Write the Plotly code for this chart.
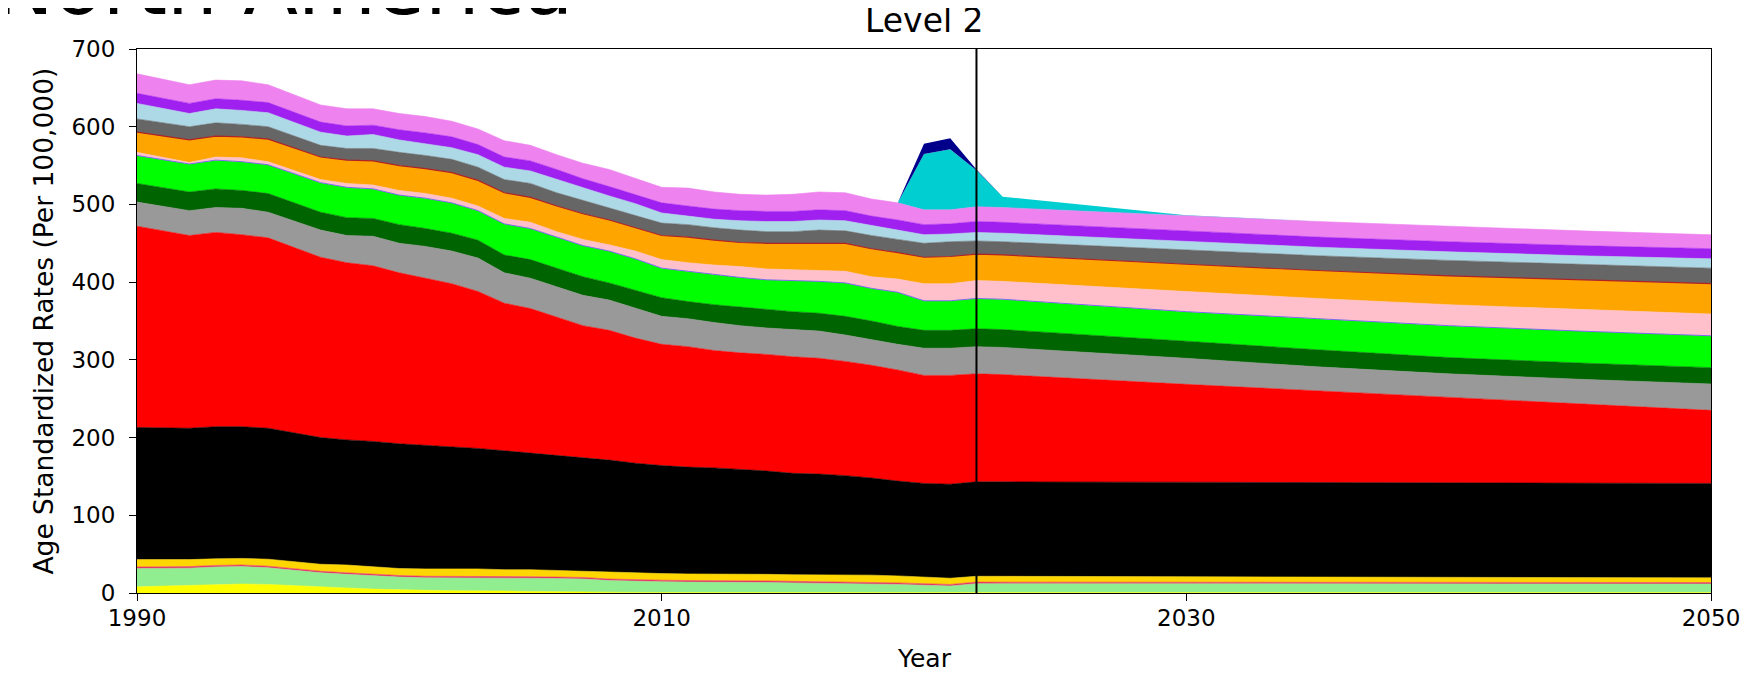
import numpy as np
import plotly.graph_objects as go

years = [1990, 1992, 1993, 1994, 1995, 1997, 1998, 1999, 2000, 2001, 2002, 2003, 2004,
         2005, 2006, 2007, 2008, 2009, 2010, 2011, 2012, 2013, 2014, 2015, 2016, 2017,
         2018, 2019, 2020, 2021, 2022, 2023, 2030, 2035, 2040, 2045, 2050]

# Upper boundary of each stacked band (bottom to top)
top_yellow = [8, 9.5, 11, 11.5, 11, 7.5, 6.5, 5, 4, 3.5, 3, 3, 2.5, 2, 1.5, 1.2, 1, 0.8, 0.7,
              0.6, 0.6, 0.5, 0.5, 0.5, 0.5, 0.5, 0.5, 0.5, 0.5, 0.5, 0.5, 0.5, 0.5, 0.5, 0.5, 0.5, 0.5]
top_lightgreen = [31.5, 32, 33.5, 34, 32.5, 26, 24, 22, 20.5, 19.5, 19.5, 19.5, 19.5, 19, 18.5, 18,
                  16, 15, 14.5, 14, 14, 13.5, 13.5, 13, 12.5, 12.5, 12, 11, 10, 9, 12, 12, 12, 12,
                  11.5, 11.5, 11.5]
top_crimson = [33.5, 34, 35.5, 36, 34.5, 28, 26, 24, 22.5, 21.5, 21.5, 21.5, 21.5, 21, 20.5, 20,
               18, 17, 16.5, 16, 16, 15.5, 15.5, 15, 14.5, 14.5, 14, 13, 12, 11, 14, 14, 14, 14,
               13.5, 13.5, 13.5]
top_gold = [43, 43, 44, 44.5, 43.5, 37, 36, 33.5, 31.5, 31, 31, 31, 30, 30, 29, 28, 26.5, 25.5,
            25, 24.5, 24.5, 24, 24, 23.5, 23.5, 23, 23, 22, 20.5, 19, 21.5, 21.5, 21, 20.5, 20,
            19.5, 19.5]
top_black = [213, 212, 214, 214, 212, 200, 197, 195, 192, 190, 188, 186, 183, 180, 177, 174, 171,
             167, 164, 162, 161, 159, 157, 154, 153, 151, 148, 144, 141, 140, 143, 143, 142.5,
             142, 141.5, 141, 141]
top_red = [472, 460, 464, 461, 457, 432, 425, 421, 412, 405, 398, 388, 373, 366, 355, 344, 338,
           328, 320, 317, 312, 309, 307, 304, 302, 298, 293, 287, 280, 280, 282, 281, 268.5, 260,
           252, 243.5, 235]
top_gray = [503, 492, 496, 495, 490, 467, 460, 459, 450, 446, 440, 431, 412, 405, 394, 383, 377,
            367, 356, 353, 348, 344, 341, 339, 337, 332, 326, 320, 315, 315, 317, 316, 302, 291,
            282, 275, 269]
top_darkgreen = [527, 516, 520, 518, 514, 490, 483, 482, 474, 469, 463, 454, 435, 429, 418, 407,
                 399, 389, 380, 375, 371, 368, 365, 362, 360, 356, 350, 343, 338, 338, 340, 339,
                 324, 313, 303, 296, 290]
top_lime = [563, 552, 557, 555, 551, 528, 522, 520, 512, 508, 502, 492, 475, 469, 458, 447, 440,
            430, 418, 414, 410, 406, 403, 402, 401, 399, 392, 387, 376, 376, 379, 378, 362, 353,
            344, 337, 331]
top_pink = [567, 554, 561, 560, 555, 532, 527, 525, 518, 514, 508, 498, 482, 477, 465, 455, 448,
            440, 429, 425, 422, 420, 417, 416, 415, 414, 407, 404, 398, 398, 402, 401, 388, 379,
            371, 365, 359]
top_orange = [593, 583, 588, 587, 584, 561, 557, 556, 550, 546, 541, 531, 515, 509, 498, 488, 480,
              470, 460, 458, 454, 451, 450, 450, 450, 450, 443, 438, 432, 433, 436, 435, 423, 415,
              408, 403, 398]
top_dimgray = [610, 600, 605, 603, 600, 576, 572, 572, 567, 563, 558, 548, 532, 527, 515, 505, 495,
               485, 476, 474, 470, 467, 465, 465, 467, 466, 460, 455, 450, 452, 453, 452, 441, 434,
               428, 423, 418]
top_lightblue = [630, 617, 623, 621, 618, 593, 588, 590, 583, 578, 573, 564, 548, 543, 532, 521,
                 511, 501, 489, 485, 481, 479, 478, 478, 480, 479, 473, 467, 461, 462, 464, 463,
                 453, 445, 439, 434, 430]
top_purple = [643, 630, 636, 634, 631, 606, 601, 602, 596, 592, 587, 577, 561, 556, 545, 533, 523,
              513, 502, 498, 494, 492, 491, 491, 493, 492, 485, 480, 474, 475, 478, 477, 466, 458,
              452, 447, 443]
top_violet = [668, 654, 660, 659, 654, 628, 623, 623, 617, 613, 607, 597, 582, 576, 564, 553, 545,
              534, 522, 521, 516, 513, 512, 513, 516, 515, 507, 502, 493, 493, 497, 496, 486, 478,
              472, 466, 461]

# Bands that exist only around 2019-2030 (values, not boundaries)
val_turquoise = [0, 0, 0, 0, 0, 0, 0, 0, 0, 0, 0, 0, 0, 0, 0, 0, 0, 0, 0, 0, 0, 0, 0, 0, 0, 0,
                 0, 0, 72, 78, 47, 14, 0, 0, 0, 0, 0]
val_navy = [0, 0, 0, 0, 0, 0, 0, 0, 0, 0, 0, 0, 0, 0, 0, 0, 0, 0, 0, 0, 0, 0, 0, 0, 0, 0,
            0, 0, 13, 14, 1, 0, 0, 0, 0, 0, 0]

boundaries = [top_yellow, top_lightgreen, top_crimson, top_gold, top_black, top_red, top_gray,
              top_darkgreen, top_lime, top_pink, top_orange, top_dimgray, top_lightblue,
              top_purple, top_violet]
colors = ["#ffff00", "#90ee90", "#e8336a", "#ffd700", "#000000", "#ff0000", "#999999",
          "#006400", "#00ff00", "#ffc0cb", "#ffa500", "#666666", "#add8e6", "#a020f0",
          "#ee82ee"]
edge = {8: ("#7b68ee", 1.0), 10: ("#b22222", 1.2)}

fig = go.Figure()
prev = np.zeros(len(years))
for i, (b, c) in enumerate(zip(boundaries, colors)):
    b = np.array(b, dtype=float)
    vals = b - prev
    prev = b
    lc, lw = edge.get(i, (c, 0.6))
    fig.add_trace(go.Scatter(x=years, y=vals, mode="lines", stackgroup="one",
                             fillcolor=c, line=dict(color=lc, width=lw),
                             showlegend=False, hoverinfo="skip"))

fig.add_trace(go.Scatter(x=years, y=val_turquoise, mode="lines", stackgroup="one",
                         fillcolor="#00ced1", line=dict(color="#00ced1", width=0),
                         showlegend=False, hoverinfo="skip"))
fig.add_trace(go.Scatter(x=years, y=val_navy, mode="lines", stackgroup="one",
                         fillcolor="#00008b", line=dict(color="#00008b", width=0),
                         showlegend=False, hoverinfo="skip"))

fig.add_shape(type="line", x0=2022, x1=2022, y0=0, y1=1, xref="x", yref="paper",
              line=dict(color="black", width=2), layer="above")

font = "DejaVu Sans"
axis_common = dict(showline=True, linecolor="black", linewidth=1.2, mirror=True,
                   ticks="outside", ticklen=7, tickwidth=1.2, tickcolor="black",
                   showgrid=False, zeroline=False,
                   tickfont=dict(family=font, size=23, color="black"))

fig.update_layout(
    width=1754, height=681,
    margin=dict(l=129, r=51, t=41, b=96),
    paper_bgcolor="white", plot_bgcolor="white",
    xaxis=dict(range=[1990, 2050], tickvals=[1990, 2010, 2030, 2050],
               ticklabelstandoff=-3, **axis_common),
    yaxis=dict(range=[0, 700], tickvals=[0, 100, 200, 300, 400, 500, 600, 700],
               ticklabelstandoff=9, **axis_common),
    annotations=[
        dict(text="North America", x=0.278, y=1.025, xref="paper", yref="paper",
             xanchor="right", yanchor="bottom", showarrow=False,
             font=dict(family=font, size=80, color="black")),
        dict(text="Level 2", x=0.5, y=1.012, xref="paper", yref="paper",
             xanchor="center", yanchor="bottom", showarrow=False,
             font=dict(family=font, size=33, color="black")),
        dict(text="Year", x=0.5, y=-0.121, xref="paper", yref="paper",
             xanchor="center", yanchor="middle", showarrow=False,
             font=dict(family=font, size=25, color="black")),
        dict(text="Age Standardized Rates (Per 100,000)", x=-0.06, y=0.5,
             xref="paper", yref="paper", xanchor="center", yanchor="middle",
             textangle=-90, showarrow=False,
             font=dict(family=font, size=26.5, color="black")),
    ],
)

fig.write_html("out.html")
